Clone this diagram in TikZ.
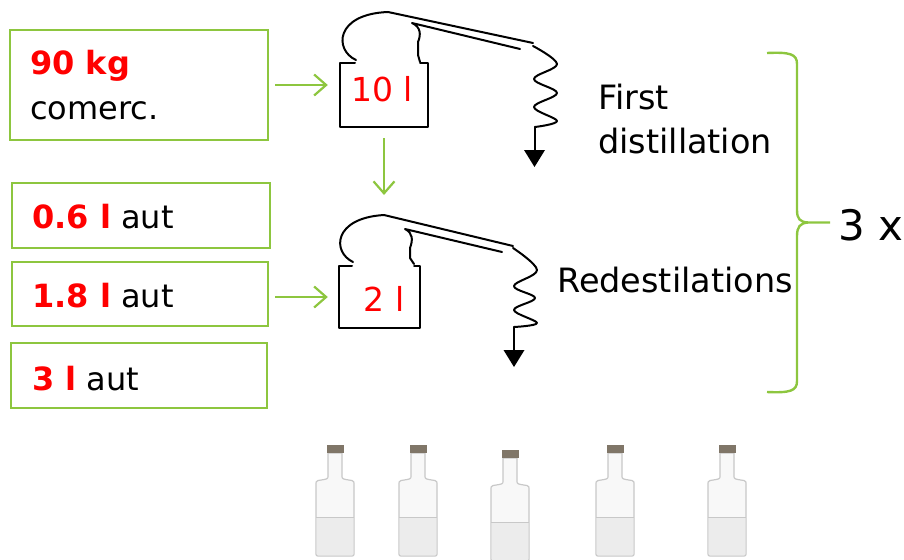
\documentclass[tikz,border=0pt]{standalone}
\usepackage{fontspec}
\setmainfont{DejaVu Sans}
\usetikzlibrary{arrows.meta}
\definecolor{leaf}{RGB}{141,198,63}
\definecolor{hot}{RGB}{255,0,0}
\definecolor{cork}{RGB}{128,118,104}
\definecolor{glassline}{RGB}{200,200,200}
\definecolor{glass}{RGB}{248,248,248}
\definecolor{glasslow}{RGB}{236,236,236}

\begin{document}
\begin{tikzpicture}[x=1pt,y=-1pt,
  inbox/.style={draw=leaf, line width=2.2pt, inner sep=0pt},
  feed/.style={draw=leaf, line width=2.2pt, -{Straight Barb[length=12pt,width=21pt,line width=2.2pt]}},
  still/.style={draw=black, line width=2pt, line join=round, line cap=round},
  boxtxt/.style={font=\fontsize{32}{36}\selectfont, anchor=base west, inner sep=0pt},
  stilltxt/.style={font=\fontsize{33}{38}\selectfont, anchor=base, inner sep=0pt, text=hot},
  steptxt/.style={font=\fontsize{33.5}{38}\selectfont, anchor=base west, inner sep=0pt},
  bottle/.pic={
    \filldraw[draw=glassline, fill=glass, line width=1.2pt]
      (-7,8) -- (-7,31) .. controls (-7,34) .. (-17,35.5) .. controls (-19,36.5) .. (-19,40)
      -- (-19,107) .. controls (-19,111) .. (-15,111) -- (15,111)
      .. controls (19,111) .. (19,107) -- (19,40) .. controls (19,36.5) .. (17,35.5)
      .. controls (7,34) .. (7,31) -- (7,8) -- cycle;
    \fill[glasslow] (-18.4,72) -- (18.4,72) -- (18.4,107) .. controls (18.4,110.4) .. (15,110.4)
      -- (-15,110.4) .. controls (-18.4,110.4) .. (-18.4,107) -- cycle;
    \draw[glassline, line width=1pt] (-19,72) -- (19,72);
    \fill[cork] (-8.5,0) rectangle (8.5,8);
  }
]
\useasboundingbox (0,0) rectangle (904,559);

% input boxes
\node[inbox, minimum width=258pt, minimum height=110pt] (b1) at (139,85) {};
\node[inbox, minimum width=258pt, minimum height=65pt] (b2) at (141,215.5) {};
\node[inbox, minimum width=256pt, minimum height=64pt] (b3) at (140,294) {};
\node[inbox, minimum width=256pt, minimum height=65pt] (b4) at (139,375.5) {};

\node[boxtxt, text=hot] (t1a) at (30,75) {\textbf{90 kg}};
\node[boxtxt] (t1b) at (30,120) {comerc.};
\node[boxtxt] (t2) at (32,228) {\textcolor{hot}{\textbf{0.6 l}} aut};
\node[boxtxt] (t3) at (32,307) {\textcolor{hot}{\textbf{1.8 l}} aut};
\node[boxtxt] (t4) at (32,390) {\textcolor{hot}{\textbf{3 l}} aut};

% first still
\node[minimum width=88pt, minimum height=64pt, inner sep=0pt] (s1) at (384,95) {};
\draw[still] (355,63) -- (340,63) -- (340,127) -- (428,127) -- (428,63) -- (420,63);
\draw[still] (356,60) .. controls (334,50) and (335,14) .. (388,12) -- (533,43);
\draw[still] (520,49) -- (412,23) .. controls (421,27) and (421,35) .. (418,42) -- (418,55) -- (420,62);
\draw[still] plot[smooth, tension=0.6] coordinates {(533,46) (557,64) (534,79) (557,93) (534,107) (557,121) (535,127)};
\draw[still] (535,127) -- (535,152);
\fill (524,150) -- (545,150) -- (534.5,167) -- cycle;
\node[stilltxt] (v1) at (382,102) {10 l};

% second still
\node[minimum width=81pt, minimum height=62pt, inner sep=0pt] (s2) at (379.5,297) {};
\coordinate (s2top) at (384,213);
\draw[still] (352,266) -- (339,266) -- (339,328) -- (420,328) -- (420,266) -- (414,266);
\draw[still] (353,262) .. controls (332,252) and (333,218) .. (384,215) -- (513,246);
\draw[still] (502,252) -- (405,229) .. controls (413,233) and (413,240) .. (410,248) -- (410,258) -- (414,264);
\draw[still] plot[smooth, tension=0.6] coordinates {(513,248) (537,270) (514,286) (535,298) (514,310) (537,323) (514,327)};
\draw[still] (514,327) -- (514,352);
\fill (503.5,350) -- (524.5,350) -- (514,367) -- cycle;
\node[stilltxt] (v2) at (384,311) {2 l};

% feeds
\draw[feed, shorten <=6pt, shorten >=12pt] (b1.east) -- (b1.east -| s1.west);
\draw[feed, shorten <=6pt, shorten >=11pt] (b3.east |- s2.west) -- (s2.west);
\draw[feed, shorten <=11pt, shorten >=18pt] (s1.south) -- (s2top);

% step labels
\node[steptxt] (l1) at (598,110) {First};
\node[steptxt] (l2) at (598,153) {distillation};
\node[steptxt] (l3) at (557,292) {Redestilations};

% brace and repeat count
\coordinate (btop) at (767,53);
\coordinate (bbot) at (767,392);
\node[font=\fontsize{42}{48}\selectfont, anchor=base west, inner sep=0pt] (rep) at (838,240) {3 x};
\draw[draw=leaf, line width=2.4pt]
  (btop) .. controls (790,52) and (797,54) .. (797,64) -- (797,210)
  .. controls (797,219) and (800,222) .. (808,222.5) -- (830,222.5);
\draw[draw=leaf, line width=2.4pt]
  (bbot) .. controls (790,393) and (797,391) .. (797,381) -- (797,236)
  .. controls (797,227) and (800,223) .. (808,222.5);

% bottles
\pic at (335,445) {bottle};
\pic at (418,445) {bottle};
\pic at (510,450) {bottle};
\pic at (615,445) {bottle};
\pic at (727,445) {bottle};
\end{tikzpicture}
\end{document}
